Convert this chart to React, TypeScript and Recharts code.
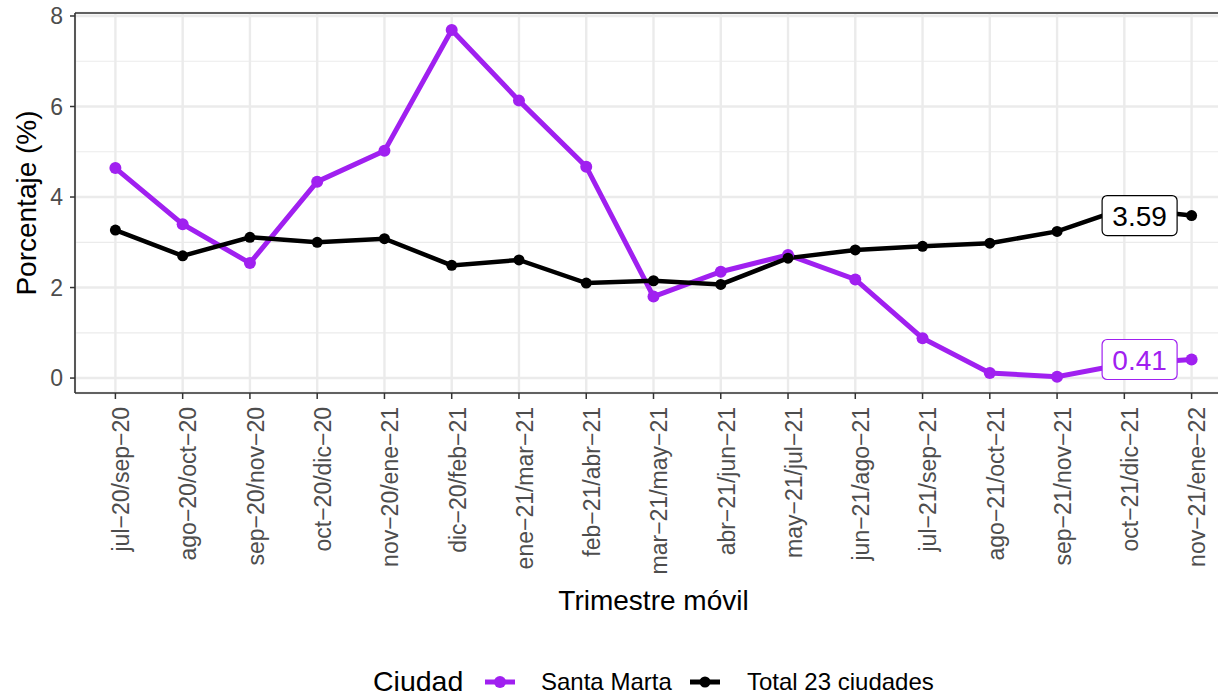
import React from "react";
import {
  ComposedChart,
  Line,
  XAxis,
  YAxis,
  CartesianGrid,
  ReferenceLine,
  LabelList,
  Label,
} from "recharts";

const periodos = [
  "jul−20/sep−20",
  "ago−20/oct−20",
  "sep−20/nov−20",
  "oct−20/dic−20",
  "nov−20/ene−21",
  "dic−20/feb−21",
  "ene−21/mar−21",
  "feb−21/abr−21",
  "mar−21/may−21",
  "abr−21/jun−21",
  "may−21/jul−21",
  "jun−21/ago−21",
  "jul−21/sep−21",
  "ago−21/oct−21",
  "sep−21/nov−21",
  "oct−21/dic−21",
  "nov−21/ene−22",
];

const santaMarta = [
  4.64, 3.4, 2.54, 4.34, 5.02, 7.69, 6.13, 4.67, 1.8, 2.35, 2.72, 2.18, 0.88,
  0.11, 0.03, 0.31, 0.41,
];
const total23 = [
  3.27, 2.7, 3.11, 3.0, 3.08, 2.49, 2.61, 2.1, 2.15, 2.07, 2.65, 2.83, 2.91,
  2.98, 3.24, 3.75, 3.59,
];

const yTicks = [0, 2, 4, 6, 8];
const yMinor = [1, 3, 5, 7];
const Y_DOMAIN: [number, number] = [-0.33, 8.066];

const PURPLE = "#A020F0";
const FONT = "'Liberation Sans', Arial, Helvetica, sans-serif";

const data = periodos.map((p, i) => ({
  periodo: p,
  santa: santaMarta[i],
  total: total23[i],
}));

function XTick(props: any) {
  const { x, y, payload } = props;
  return (
    <text
      x={x}
      y={y}
      transform={`rotate(-90 ${x} ${y})`}
      textAnchor="end"
      dy="0.6em"
      fontSize={23}
      fill="#4D4D4D"
      fontFamily={FONT}
    >
      {payload.value}
    </text>
  );
}

// etiqueta tipo ggrepel solo en el último punto
function endLabel(color: string) {
  return (props: any) => {
    const { x, y, value, index } = props;
    if (index !== periodos.length - 1) return null;
    const cx = x - 52;
    return (
      <g>
        <rect
          x={cx - 37.5}
          y={y - 20}
          width={75}
          height={40}
          rx={5}
          fill="#fff"
          stroke={color}
          strokeWidth={1.2}
        />
        <text
          x={cx}
          y={y}
          dy="0.36em"
          textAnchor="middle"
          fontSize={28}
          fill={color}
          fontFamily={FONT}
        >
          {value.toFixed(2)}
        </text>
      </g>
    );
  };
}

function Legend() {
  return (
    <svg
      width={1218}
      height={57}
      style={{ position: "absolute", left: 0, top: 640 }}
      fontFamily={FONT}
    >
      <text x={373} y={51} fontSize={28.5} fill="#000">
        Ciudad
      </text>
      <line x1={485} x2={515} y1={42} y2={42} stroke={PURPLE} strokeWidth={5} />
      <circle cx={500} cy={42} r={6} fill={PURPLE} />
      <text x={541} y={50} fontSize={24} fill="#000">
        Santa Marta
      </text>
      <line x1={690} x2={720} y1={42} y2={42} stroke="#000" strokeWidth={5} />
      <circle cx={705} cy={42} r={5.5} fill="#000" />
      <text x={747} y={50} fontSize={24} fill="#000">
        Total 23 ciudades
      </text>
    </svg>
  );
}

export default function App() {
  return (
    <div
      style={{
        position: "relative",
        width: 1218,
        height: 697,
        overflow: "hidden",
        background: "#fff",
      }}
    >
      <style>{"body{margin:0;overflow:hidden}"}</style>
      <ComposedChart
        width={1240}
        height={697}
        data={data}
        margin={{ top: 13, right: 8, bottom: 74, left: 0 }}
      >
        <CartesianGrid stroke="#EBEBEB" strokeWidth={2.4} />
        {yMinor.map((v) => (
          <ReferenceLine key={v} y={v} stroke="#EBEBEB" strokeWidth={1.2} />
        ))}
        <ReferenceLine
          y={Y_DOMAIN[1]}
          stroke="#333333"
          strokeWidth={1.6}
          ifOverflow="visible"
        />
        <XAxis
          dataKey="periodo"
          scale="point"
          padding={{ left: 40.4, right: 40.4 }}
          height={230}
          interval={0}
          tick={<XTick />}
          tickSize={6}
          tickMargin={8}
          tickLine={{ stroke: "#333333", strokeWidth: 1.5 }}
          axisLine={{ stroke: "#333333", strokeWidth: 1.6 }}
        >
          <Label
            content={(p: any) => (
              <text
                x={p.viewBox.x + p.viewBox.width / 2}
                y={610}
                textAnchor="middle"
                fontSize={28}
                fill="#000"
                fontFamily={FONT}
              >
                Trimestre móvil
              </text>
            )}
          />
        </XAxis>
        <YAxis
          width={75}
          domain={Y_DOMAIN}
          allowDataOverflow
          ticks={yTicks}
          tickSize={5}
          tickMargin={7}
          tick={{ fontSize: 23, fill: "#4D4D4D", fontFamily: FONT }}
          tickLine={{ stroke: "#333333", strokeWidth: 1.5 }}
          axisLine={{ stroke: "#333333", strokeWidth: 1.6 }}
        >
          <Label
            content={() => (
              <text
                x={36}
                y={203}
                transform="rotate(-90 36 203)"
                textAnchor="middle"
                fontSize={28}
                fill="#000"
                fontFamily={FONT}
              >
                Porcentaje (%)
              </text>
            )}
          />
        </YAxis>
        <Line
          dataKey="santa"
          stroke={PURPLE}
          strokeWidth={5}
          dot={false}
          activeDot={false}
          isAnimationActive={false}
        />
        <Line
          dataKey="total"
          stroke="#000"
          strokeWidth={4.5}
          dot={false}
          activeDot={false}
          isAnimationActive={false}
        />
        <Line
          dataKey="santa"
          stroke="none"
          dot={{ r: 6, fill: PURPLE, stroke: "none" }}
          activeDot={false}
          isAnimationActive={false}
        />
        <Line
          dataKey="total"
          stroke="none"
          dot={{ r: 5.5, fill: "#000", stroke: "none" }}
          activeDot={false}
          isAnimationActive={false}
        />
        <Line
          dataKey="santa"
          stroke="none"
          dot={false}
          activeDot={false}
          isAnimationActive={false}
        >
          <LabelList dataKey="santa" content={endLabel(PURPLE)} />
        </Line>
        <Line
          dataKey="total"
          stroke="none"
          dot={false}
          activeDot={false}
          isAnimationActive={false}
        >
          <LabelList dataKey="total" content={endLabel("#000")} />
        </Line>
      </ComposedChart>
      <Legend />
    </div>
  );
}
